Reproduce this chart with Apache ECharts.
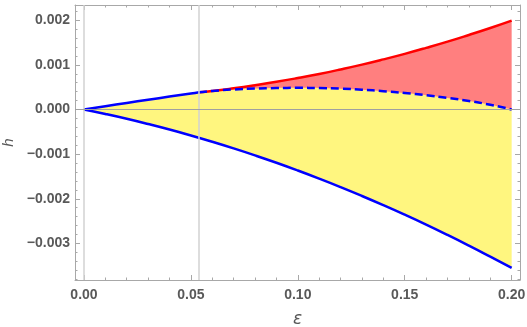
<!DOCTYPE html>
<html>
<head>
<meta charset="utf-8">
<script src="https://cdn.jsdelivr.net/npm/echarts@6/dist/echarts.min.js"></script>
<style>
  html, body { margin: 0; padding: 0; background: #fff; }
  #chart { width: 527px; height: 327px; }
</style>
</head>
<body>
<div id="chart"></div>
<script>
// lower branch (solid blue)
var epsLower = [0, 0.01, 0.02, 0.03, 0.04, 0.05, 0.06, 0.07, 0.08, 0.09, 0.10,
                0.11, 0.12, 0.13, 0.14, 0.15, 0.16, 0.17, 0.18, 0.19, 0.20]
var hLower = [0, -0.000100, -0.000208, -0.000325, -0.000449, -0.000582, -0.000723,
              -0.000872, -0.001029, -0.001194, -0.001368, -0.00155, -0.00174, -0.001938,
              -0.002144, -0.002358, -0.00258, -0.002811, -0.00305, -0.003297, -0.00355]

// upper branch before the split point (solid blue)
var epsUpperBlue = [0, 0.01, 0.02, 0.03, 0.04, 0.05, 0.0538]
var hUpperBlue = [0, 0.000074, 0.000147, 0.000218, 0.000288, 0.000357, 0.000385]

// after the split: red upper curve and dashed blue curve
var epsSplit = [0.0538, 0.06, 0.07, 0.08, 0.09, 0.10, 0.11, 0.12, 0.13, 0.14,
                0.15, 0.16, 0.17, 0.18, 0.19, 0.20]
var hRed = [0.000385, 0.000413, 0.000474, 0.000543, 0.000619, 0.000704, 0.000796,
            0.000897, 0.001005, 0.001122, 0.001246, 0.001379, 0.001519, 0.001669,
            0.001825, 0.00199]
var hDashed = [0.000385, 0.000415, 0.000448, 0.000468, 0.00048, 0.000484, 0.00048,
               0.000466, 0.000442, 0.00041, 0.000368, 0.000318, 0.000258, 0.00019,
               0.000105, 0]

// ticks and reference lines
var xMajor = [0, 0.05, 0.10, 0.15, 0.20]
var yMajor = [-0.003, -0.002, -0.001, 0, 0.001, 0.002]
var vLines = [0, 0.0538]

var xMin = -0.0042, xMax = 0.2039
var yMin = -0.00382, yMax = 0.00234

function pairs(xs, ys) {
  return xs.map(function (x, i) { return [x, ys[i]] })
}
function minorTicks(lo, hi, step, majors) {
  var out = []
  for (var v = lo; v <= hi + step / 2; v += step) {
    var r = Math.round(v / step) * step
    r = +r.toFixed(6)
    if (majors.indexOf(r) < 0) out.push(r)
  }
  return out
}
var xMinor = minorTicks(0, 0.2, 0.01, xMajor)
var yMinor = minorTicks(-0.0038, 0.0022, 0.0002, yMajor)

var upperBoundary = pairs(epsUpperBlue, hUpperBlue).concat(pairs(epsSplit, hDashed).slice(1))

var frameColor = '#a8a8a8'
var labelColor = '#595959'

function xAxisDef(pos, ticks, len, main) {
  return {
    type: 'value', position: pos, min: xMin, max: xMax,
    axisLine: { show: main, onZero: false, lineStyle: { color: frameColor, width: 1 } },
    axisTick: { show: true, inside: true, length: len, customValues: ticks,
                lineStyle: { color: frameColor, width: 1 } },
    axisLabel: { show: main && pos === 'bottom', customValues: xMajor, margin: 8,
                 color: labelColor, fontSize: 14, fontWeight: 'bold',
                 fontFamily: 'Liberation Sans, Arial, sans-serif',
                 formatter: function (v) { return v.toFixed(2) } },
    splitLine: { show: false },
    name: main && pos === 'bottom' ? 'ε' : '',
    nameLocation: 'middle', nameGap: 31,
    nameTextStyle: { color: labelColor, fontSize: 17, fontStyle: 'italic',
                     fontFamily: 'DejaVu Sans, sans-serif' }
  }
}
function yAxisDef(pos, ticks, len, main) {
  return {
    type: 'value', position: pos, min: yMin, max: yMax,
    axisLine: { show: main, onZero: false, lineStyle: { color: frameColor, width: 1 } },
    axisTick: { show: true, inside: true, length: len, customValues: ticks,
                lineStyle: { color: frameColor, width: 1 } },
    axisLabel: { show: main && pos === 'left', customValues: yMajor, margin: 5,
                 color: labelColor, fontSize: 14, fontWeight: 'bold',
                 fontFamily: 'Liberation Sans, Arial, sans-serif',
                 formatter: function (v) {
                   var s = Math.abs(v).toFixed(3)
                   return v < -1e-9 ? '\u2212' + s : s
                 } },
    splitLine: { show: false },
    name: main && pos === 'left' ? 'h' : '',
    nameLocation: 'middle', nameGap: 54, nameRotate: 90,
    nameTextStyle: { color: labelColor, fontSize: 15, fontStyle: 'italic',
                     fontFamily: 'Liberation Sans, Arial, sans-serif' }
  }
}

var option = {
  animation: false,
  backgroundColor: '#fff',
  grid: { left: 75, right: 7, top: 5, bottom: 47, containLabel: false, outerBoundsMode: 'none' },
  xAxis: [
    xAxisDef('bottom', xMajor, 5, true),
    xAxisDef('bottom', xMinor, 2.5, false),
    xAxisDef('top', xMajor, 5, true),
    xAxisDef('top', xMinor, 2.5, false)
  ],
  yAxis: [
    yAxisDef('left', yMajor, 5, true),
    yAxisDef('left', yMinor, 2.5, false),
    yAxisDef('right', yMajor, 5, true),
    yAxisDef('right', yMinor, 2.5, false)
  ],
  series: [
    // fills, all towards h = 0
    { type: 'line', z: 1, data: pairs(epsSplit, hRed), showSymbol: false, smooth: true,
      lineStyle: { width: 0 }, areaStyle: { color: '#ff7f7f', opacity: 1 } },
    { type: 'line', z: 1, data: upperBoundary, showSymbol: false, smooth: true,
      lineStyle: { width: 0 }, areaStyle: { color: '#fff67f', opacity: 1 } },
    { type: 'line', z: 1, data: pairs(epsLower, hLower), showSymbol: false, smooth: true,
      lineStyle: { width: 0 }, areaStyle: { color: '#fff67f', opacity: 1 } },
    // reference lines
    { type: 'line', z: 2, data: [], silent: true,
      markLine: {
        symbol: ['none', 'none'], silent: true, precision: 6, label: { show: false },
        data: vLines.map(function (v) {
          return { xAxis: v, lineStyle: { color: '#d2d2d2', width: 1.5, type: 'solid' } }
        }).concat([{ yAxis: 0, lineStyle: { color: '#a0a0a0', width: 1.2, type: 'solid' } }])
      } },
    // curves
    { type: 'line', z: 3, data: pairs(epsLower, hLower), showSymbol: false, smooth: true,
      lineStyle: { color: '#0000ff', width: 2.5 } },
    { type: 'line', z: 3, data: pairs(epsUpperBlue, hUpperBlue), showSymbol: false, smooth: true,
      lineStyle: { color: '#0000ff', width: 2.5 } },
    { type: 'line', z: 3, data: pairs(epsSplit, hRed), showSymbol: false, smooth: true,
      lineStyle: { color: '#ff0000', width: 2.5 } },
    { type: 'line', z: 4, data: pairs(epsSplit, hDashed), showSymbol: false, smooth: true,
      lineStyle: { color: '#0000ff', width: 2.5, type: [8, 4] } }
  ]
}

var chart = echarts.init(document.getElementById('chart'))
chart.setOption(option)
</script>
</body>
</html>
